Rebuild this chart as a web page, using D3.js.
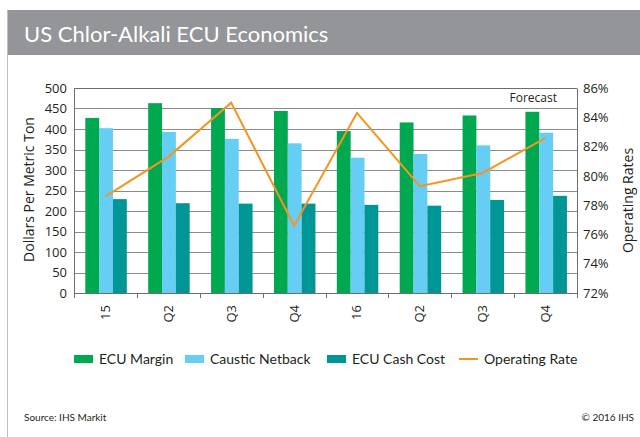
<!DOCTYPE html>
<html>
<head>
<meta charset="utf-8">
<script src="https://cdn.jsdelivr.net/npm/d3@7"></script>
<style>
  body { margin: 0; background: #fff; }
  svg { display: block; }
</style>
</head>
<body>
<div class="chart"></div>
<script>
// chart data
const quarters = ["15", "Q2", "Q3", "Q4", "16", "Q2", "Q3", "Q4"];
const ecuMargin = [427, 463, 451, 444, 395, 416, 433, 442];
const causticNetback = [402, 393, 376, 365, 330, 339, 360, 391];
const ecuCashCost = [229, 219, 218, 218, 215, 213, 227, 237];
const operatingRate = [78.6, 81.3, 85.0, 76.6, 84.3, 79.3, 80.2, 82.6];
const leftTicks = [0, 50, 100, 150, 200, 250, 300, 350, 400, 450, 500];
const rightTicks = [72, 74, 76, 78, 80, 82, 84, 86];

const barSeries = [
  { name: "ECU Margin", values: ecuMargin, color: "#00a84f" },
  { name: "Caustic Netback", values: causticNetback, color: "#66cdf5" },
  { name: "ECU Cash Cost", values: ecuCashCost, color: "#009696" },
];
const lineColor = "#f7941d";

const W = 640, H = 437;
const margin = { top: 88, right: 63, bottom: 144, left: 74 };
const innerW = W - margin.left - margin.right;
const innerH = H - margin.top - margin.bottom;

const svg = d3.select(".chart").append("svg")
  .attr("width", W)
  .attr("height", H);

// frame + title bar
svg.append("rect").attr("x", 7).attr("y", 10).attr("width", W - 7).attr("height", 45)
  .attr("fill", "#939598");
svg.append("line").attr("x1", 7.5).attr("x2", 7.5).attr("y1", 10).attr("y2", H)
  .attr("stroke", "#bcbec0");
svg.append("text").attr("x", 24).attr("y", 42)
  .attr("fill", "#fff")
  .attr("font-family", "Lato, 'Open Sans', sans-serif")
  .attr("font-size", 22)
  .text("US Chlor-Alkali ECU Economics");

const g = svg.append("g").attr("transform", `translate(${margin.left},${margin.top})`);

const x0 = d3.scaleBand().domain(d3.range(quarters.length)).range([0, innerW]);
const x1 = d3.scaleBand().domain(d3.range(barSeries.length))
  .range([x0.bandwidth() * 0.18, x0.bandwidth() * 0.84]);
const y = d3.scaleLinear().domain([0, 500]).range([innerH, 0]);
const yR = d3.scaleLinear().domain([72, 86]).range([innerH, 0]);

const axisFont = "'Open Sans', sans-serif";

// gridlines
g.append("g")
  .selectAll("line")
  .data(leftTicks.slice(1))
  .join("line")
  .attr("x1", 0).attr("x2", innerW)
  .attr("y1", (d) => Math.round(y(d)) + 0.5)
  .attr("y2", (d) => Math.round(y(d)) + 0.5)
  .attr("stroke", "#8c8c8c");

// bars
barSeries.forEach((s, si) => {
  g.append("g")
    .selectAll("rect")
    .data(s.values)
    .join("rect")
    .attr("x", (d, i) => x0(i) + x1(si))
    .attr("width", x1.bandwidth())
    .attr("y", (d) => y(d))
    .attr("height", (d) => innerH - y(d))
    .attr("fill", s.color);
});

// operating rate line
const line = d3.line()
  .x((d, i) => x0(i) + x0.bandwidth() / 2)
  .y((d) => yR(d));
g.append("path")
  .datum(operatingRate)
  .attr("fill", "none")
  .attr("stroke", lineColor)
  .attr("stroke-width", 2)
  .attr("d", line);

// left axis
const leftAxis = g.append("g")
  .call(d3.axisLeft(y).tickValues(leftTicks).tickSize(0).tickPadding(7))
  .attr("font-family", axisFont).attr("font-size", 13);
leftAxis.select(".domain").attr("stroke", "#6d6e71");
leftAxis.selectAll("text").attr("fill", "#231f20");

// right axis
const rightAxis = g.append("g")
  .attr("transform", `translate(${innerW},0)`)
  .call(d3.axisRight(yR).tickValues(rightTicks).tickFormat((d) => d + "%").tickSize(0).tickPadding(6))
  .attr("font-family", axisFont).attr("font-size", 13);
rightAxis.select(".domain").attr("stroke", "#6d6e71");
rightAxis.selectAll("text").attr("fill", "#231f20");

// bottom axis
const bottom = g.append("g").attr("transform", `translate(0,${innerH})`);
bottom.append("line").attr("x1", 0).attr("x2", innerW).attr("y1", 0.5).attr("y2", 0.5)
  .attr("stroke", "#6d6e71");
bottom.selectAll("line.tk")
  .data(d3.range(quarters.length + 1))
  .join("line")
  .attr("class", "tk")
  .attr("x1", (d) => Math.round(d * x0.step()) + 0.5)
  .attr("x2", (d) => Math.round(d * x0.step()) + 0.5)
  .attr("y1", 0).attr("y2", 5)
  .attr("stroke", "#6d6e71");
bottom.selectAll("text")
  .data(quarters)
  .join("text")
  .attr("transform", (d, i) => `translate(${x0(i) + x0.bandwidth() / 2 + 4.5},12) rotate(-90)`)
  .attr("text-anchor", "end")
  .attr("font-family", axisFont)
  .attr("font-size", 13)
  .attr("fill", "#231f20")
  .text((d) => d);

// top border
g.append("line").attr("x1", 0).attr("x2", innerW).attr("y1", 0.5).attr("y2", 0.5)
  .attr("stroke", "#6d6e71");

g.append("text")
  .attr("x", innerW - 20).attr("y", 14)
  .attr("text-anchor", "end")
  .attr("font-family", axisFont)
  .attr("font-size", 12)
  .attr("fill", "#231f20")
  .text("Forecast");

// axis titles
svg.append("text")
  .attr("transform", `translate(34,${margin.top + innerH / 2 - 1}) rotate(-90)`)
  .attr("text-anchor", "middle")
  .attr("font-family", axisFont)
  .attr("font-size", 14)
  .attr("fill", "#231f20")
  .text("Dollars Per Metric Ton");
svg.append("text")
  .attr("transform", `translate(633,${margin.top + innerH / 2 + 10}) rotate(-90)`)
  .attr("text-anchor", "middle")
  .attr("font-family", axisFont)
  .attr("font-size", 14)
  .attr("fill", "#231f20")
  .text("Operating Rates");

// legend
const legendItems = [
  ...barSeries.map((s) => ({ name: s.name, color: s.color, type: "box" })),
  { name: "Operating Rate", color: lineColor, type: "line" },
];
const legendX = [74, 185, 327, 459];
const legend = svg.append("g").attr("transform", "translate(0,361)");
legendItems.forEach((d, i) => {
  const item = legend.append("g").attr("transform", `translate(${legendX[i]},0)`);
  if (d.type === "box") {
    item.append("rect").attr("x", 0).attr("y", -6).attr("width", 19).attr("height", 8).attr("fill", d.color);
  } else {
    item.append("line").attr("x1", 0).attr("x2", 19).attr("y1", -2).attr("y2", -2)
      .attr("stroke", d.color).attr("stroke-width", 2);
  }
  item.append("text").attr("x", 25).attr("y", 3)
    .attr("font-family", "Lato, 'Open Sans', sans-serif")
    .attr("font-size", 14)
    .attr("fill", "#231f20")
    .text(d.name);
});

// footer
svg.append("text").attr("x", 24).attr("y", 421)
  .attr("font-family", "Lato, 'Open Sans', sans-serif")
  .attr("font-size", 10).attr("fill", "#231f20")
  .text("Source: IHS Markit");
svg.append("text").attr("x", 634).attr("y", 421)
  .attr("text-anchor", "end")
  .attr("font-family", "Lato, 'Open Sans', sans-serif")
  .attr("font-size", 10).attr("fill", "#231f20")
  .text("© 2016  IHS");
</script>
</body>
</html>
